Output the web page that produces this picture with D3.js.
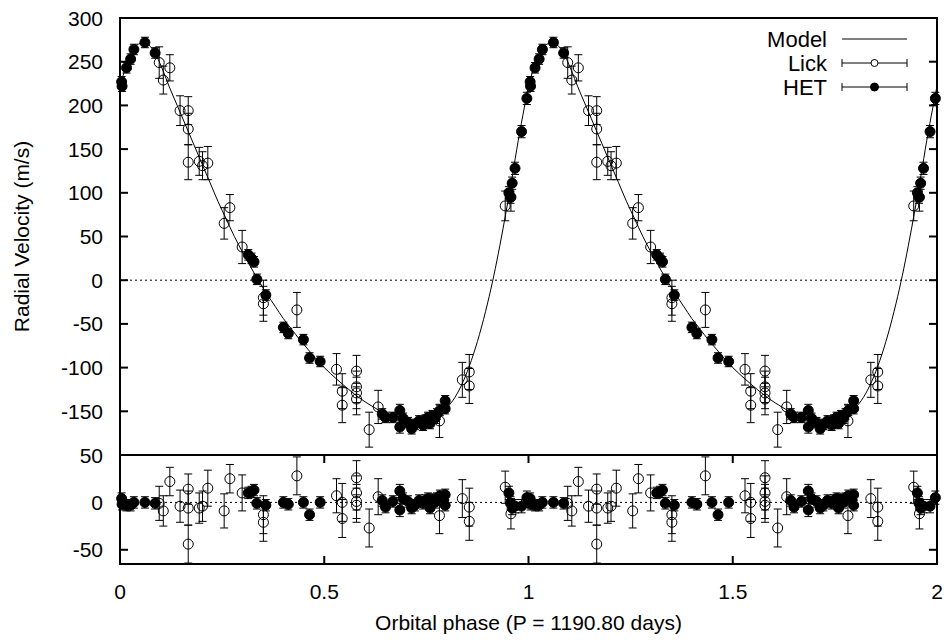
<!DOCTYPE html>
<html lang="en">

<head>
  <meta charset="UTF-8">
  <title>Radial velocity orbit</title>
  <script src="https://cdn.jsdelivr.net/npm/d3@7"></script>
  <style>
    body { margin: 0; background: #fff; }
    text { font-family: "Liberation Sans", Arial, Helvetica, sans-serif; fill: #000; }
  </style>
</head>

<body>
  <svg width="950" height="644"></svg>
  <script>
    // Keplerian model (one orbit, phase 0..1)
    var modelPhase = [0.000, 0.015, 0.030, 0.045, 0.060, 0.075, 0.090, 0.105, 0.120, 0.140,
      0.160, 0.180, 0.200, 0.220, 0.240, 0.260, 0.280, 0.300, 0.320, 0.340,
      0.360, 0.380, 0.400, 0.420, 0.440, 0.460, 0.480, 0.500, 0.530, 0.560,
      0.590, 0.620, 0.650, 0.680, 0.710, 0.740, 0.770, 0.800, 0.820, 0.840,
      0.860, 0.880, 0.900, 0.915, 0.930, 0.945, 0.960, 0.975, 0.990, 1.000];
    var modelRV = [222, 245, 262, 270, 272, 267, 256, 240, 222, 200,
      178, 156, 134, 112, 90, 70, 50, 32, 15, -1,
      -16, -30, -44, -56, -68, -79, -90, -100, -113, -125,
      -136, -145, -153, -159, -162, -162, -157, -146, -134, -116,
      -92, -62, -26, 5, 40, 78, 118, 160, 198, 222];

    // Lick observations
    var lickPhase = [0.096, 0.106, 0.122, 0.147, 0.167, 0.167, 0.167, 0.194, 0.202, 0.215,
      0.255, 0.269, 0.299, 0.351, 0.351, 0.433, 0.530, 0.544, 0.544, 0.579,
      0.579, 0.579, 0.579, 0.610, 0.632, 0.782, 0.838, 0.855, 0.855, 0.943, 0.957];
    var lickRV = [249, 229, 243, 194, 194, 173, 135, 136, 131, 134,
      65, 83, 38, -20, -27, -34, -102, -127, -143, -104,
      -122, -129, -136, -171, -145, -161, -114, -105, -121, 85, 95];
    var lickErr = [18, 16, 15, 17, 16, 18, 20, 16, 16, 19,
      18, 15, 19, 20, 20, 20, 18, 20, 20, 18,
      18, 18, 18, 20, 19, 19, 20, 20, 20, 17, 16];
    var lickResid = [-1, -9, 22, -4, 14, -6, -44, -6, -4, 15,
      -9, 25, 10, -13, -21, 28, 7, 0, -17, 26,
      10, 1, -3, -27, 6, -14, 4, -5, -20, 16, -12];

    // HET observations
    var hetPhase = [0.004, 0.005, 0.016, 0.026, 0.034, 0.061, 0.086,
      0.314, 0.322, 0.328, 0.335, 0.357,
      0.400, 0.412, 0.449, 0.464, 0.490,
      0.642, 0.650, 0.668, 0.685, 0.685, 0.693, 0.705, 0.714, 0.722, 0.732,
      0.742, 0.748, 0.754, 0.759, 0.765, 0.771, 0.776, 0.783, 0.796, 0.796,
      0.952, 0.956, 0.960, 0.967, 0.983, 0.996];
    var hetRV = [227, 222, 243, 253, 264, 272, 260,
      29, 25, 21, 1, -17,
      -54, -61, -68, -89, -93,
      -153, -157, -157, -149, -168, -158, -163, -170, -165, -161,
      -166, -160, -157, -164, -155, -158, -153, -149, -138, -147,
      100, 95, 111, 128, 170, 208];
    var hetErr = [6, 6, 6, 6, 6, 6, 6,
      6, 6, 6, 6, 6,
      6, 6, 6, 6, 6,
      6, 6, 6, 7, 7, 6, 6, 6, 6, 6,
      6, 6, 6, 6, 6, 6, 6, 6, 6, 6,
      7, 7, 7, 7, 7, 7];
    var hetResid = [4, -2, -3, -3, 0, 0, -1,
      10, 11, 13, -1, -3,
      0, -2, 0, -13, 0,
      2, -5, 1, 12, -8, 4, 1, -6, -3, 2,
      -1, 2, 4, -6, 3, 0, 4, 7, 8, -3,
      10, -1, -6, -4, -4, 5];

    // axis ticks
    var xTicks = [0, 0.5, 1, 1.5, 2];
    var xTickLabels = ["0", "0.5", "1", "1.5", "2"];
    var rvTicks = [300, 250, 200, 150, 100, 50, 0, -50, -100, -150];
    var residTicks = [50, 0, -50];

    // panel geometry (gnuplot style multiplot)
    var plotLeft = 120, plotRight = 937, plotTop = 18, plotMid = 455, plotBottom = 564;
    var tickLen = 8;
    var fontSize = "21px";

    var x = d3.scaleLinear().domain([0, 2]).range([plotLeft, plotRight]);
    var yTop = d3.scaleLinear().domain([-200, 300]).range([plotMid, plotTop]);
    var yRes = d3.scaleLinear().domain([-65, 50]).range([plotBottom, plotMid]);

    // fold data: every point shown at phase and phase + 1
    function buildRows(phase, rv, err, resid) {
      var rows = [];
      for (var k = 0; k < 2; k++) {
        phase.forEach(function(p, i) {
          rows.push({ phase: p + k, rv: rv[i], err: err[i], resid: resid[i] });
        });
      }
      return rows;
    }
    var lick = buildRows(lickPhase, lickRV, lickErr, lickResid);
    var het = buildRows(hetPhase, hetRV, hetErr, hetResid);

    var model = [];
    [0, 1].forEach(function(k) {
      modelPhase.forEach(function(p, i) {
        if (k == 1 && i == 0) return;
        model.push({ phase: p + k, rv: modelRV[i] });
      });
    });

    var svg = d3.select("svg");

    svg.append("clipPath").attr("id", "clipTop")
      .append("rect").attr("x", plotLeft).attr("y", plotTop)
      .attr("width", plotRight - plotLeft).attr("height", plotMid - plotTop);

    // zero lines
    svg.append("line")
      .attr("x1", plotLeft).attr("x2", plotRight)
      .attr("y1", yTop(0)).attr("y2", yTop(0))
      .attr("stroke", "#000").attr("stroke-width", 1)
      .attr("stroke-dasharray", "2,3");
    svg.append("line")
      .attr("x1", plotLeft).attr("x2", plotRight)
      .attr("y1", yRes(0)).attr("y2", yRes(0))
      .attr("stroke", "#000").attr("stroke-width", 1)
      .attr("stroke-dasharray", "2,3");

    // model curve
    var line = d3.line()
      .x(function(d) { return x(d.phase); })
      .y(function(d) { return yTop(d.rv); })
      .curve(d3.curveMonotoneX);
    svg.append("path")
      .datum(model)
      .attr("clip-path", "url(#clipTop)")
      .attr("fill", "none")
      .attr("stroke", "#000")
      .attr("stroke-width", 1)
      .attr("d", line);

    // error bars + markers for one panel
    function drawSet(rows, yScale, valKey, filled, cls) {
      var g = svg.append("g").attr("class", cls);
      var bars = g.selectAll(".err").data(rows).enter().append("g").attr("class", "err")
        .attr("stroke", "#000").attr("stroke-width", 1);
      bars.append("line")
        .attr("x1", function(d) { return x(d.phase); })
        .attr("x2", function(d) { return x(d.phase); })
        .attr("y1", function(d) { return yScale(d[valKey] + d.err); })
        .attr("y2", function(d) { return yScale(d[valKey] - d.err); });
      [1, -1].forEach(function(s) {
        bars.append("line")
          .attr("x1", function(d) { return x(d.phase) - 4; })
          .attr("x2", function(d) { return x(d.phase) + 4; })
          .attr("y1", function(d) { return yScale(d[valKey] + s * d.err); })
          .attr("y2", function(d) { return yScale(d[valKey] + s * d.err); });
      });
      g.selectAll(".pt").data(rows).enter().append("circle").attr("class", "pt")
        .attr("cx", function(d) { return x(d.phase); })
        .attr("cy", function(d) { return yScale(d[valKey]); })
        .attr("r", 5)
        .attr("fill", filled ? "#000" : "none")
        .attr("stroke", "#000")
        .attr("stroke-width", 1);
    }
    drawSet(lick, yTop, "rv", false, "lick-top");
    drawSet(het, yTop, "rv", true, "het-top");
    drawSet(lick, yRes, "resid", false, "lick-res");
    drawSet(het, yRes, "resid", true, "het-res");

    // frames
    svg.append("rect")
      .attr("x", plotLeft).attr("y", plotTop)
      .attr("width", plotRight - plotLeft).attr("height", plotMid - plotTop)
      .attr("fill", "none").attr("stroke", "#000").attr("stroke-width", 2);
    svg.append("rect")
      .attr("x", plotLeft).attr("y", plotMid)
      .attr("width", plotRight - plotLeft).attr("height", plotBottom - plotMid)
      .attr("fill", "none").attr("stroke", "#000").attr("stroke-width", 2);

    // y ticks, inward on both sides
    function yTicks(ticks, yScale) {
      ticks.forEach(function(t) {
        var yy = yScale(t);
        svg.append("line").attr("x1", plotLeft).attr("x2", plotLeft + tickLen)
          .attr("y1", yy).attr("y2", yy).attr("stroke", "#000").attr("stroke-width", 2);
        svg.append("line").attr("x1", plotRight - tickLen).attr("x2", plotRight)
          .attr("y1", yy).attr("y2", yy).attr("stroke", "#000").attr("stroke-width", 2);
        svg.append("text")
          .attr("x", plotLeft - 17).attr("y", yy).attr("dy", "0.36em")
          .attr("text-anchor", "end")
          .style("font-size", fontSize)
          .text(t);
      });
    }
    yTicks(rvTicks, yTop);
    yTicks(residTicks, yRes);

    // x ticks on the residual panel (top and bottom edges)
    xTicks.forEach(function(t, i) {
      var xx = x(t);
      svg.append("line").attr("x1", xx).attr("x2", xx)
        .attr("y1", plotBottom).attr("y2", plotBottom - tickLen).attr("stroke", "#000").attr("stroke-width", 2);
      svg.append("line").attr("x1", xx).attr("x2", xx)
        .attr("y1", plotMid).attr("y2", plotMid + tickLen).attr("stroke", "#000").attr("stroke-width", 2);
      svg.append("text")
        .attr("x", xx).attr("y", plotBottom + 35)
        .attr("text-anchor", "middle")
        .style("font-size", fontSize)
        .text(xTickLabels[i]);
    });

    // axis titles
    svg.append("text")
      .attr("x", (plotLeft + plotRight) / 2).attr("y", 630)
      .attr("text-anchor", "middle")
      .style("font-size", fontSize)
      .text("Orbital phase (P = 1190.80 days)");
    svg.append("text")
      .attr("transform", "translate(29," + ((plotTop + plotMid) / 2) + ") rotate(-90)")
      .attr("text-anchor", "middle")
      .style("font-size", fontSize)
      .text("Radial Velocity (m/s)");

    // legend
    var legend = svg.append("g").attr("class", "legend");
    var lx1 = 842, lx2 = 907, lxm = (lx1 + lx2) / 2;
    var legendRows = [{ name: "Model", y: 39 }, { name: "Lick", y: 63 }, { name: "HET", y: 87 }];
    legendRows.forEach(function(d, i) {
      legend.append("text")
        .attr("x", 827).attr("y", d.y).attr("dy", "0.36em")
        .attr("text-anchor", "end")
        .style("font-size", "22px")
        .text(d.name);
      legend.append("line").attr("x1", lx1).attr("x2", lx2)
        .attr("y1", d.y).attr("y2", d.y).attr("stroke", "#000").attr("stroke-width", 1);
      if (i > 0) {
        [lx1, lx2].forEach(function(cx) {
          legend.append("line").attr("x1", cx).attr("x2", cx)
            .attr("y1", d.y - 4).attr("y2", d.y + 4).attr("stroke", "#000").attr("stroke-width", 1);
        });
        legend.append("circle").attr("cx", lxm).attr("cy", d.y)
          .attr("r", i == 1 ? 3.5 : 4)
          .attr("fill", i == 1 ? "#fff" : "#000")
          .attr("stroke", "#000").attr("stroke-width", 1);
      }
    });
  </script>
</body>

</html>
